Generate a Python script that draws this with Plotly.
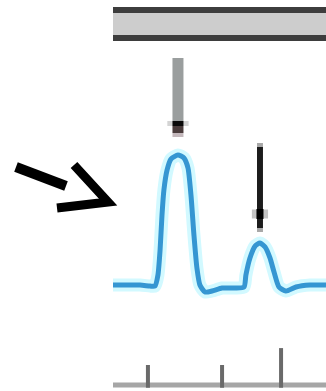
import plotly.graph_objects as go

W, H = 326, 391

# Signal (time units vs. intensity, baseline = 0, main peak = 100)
time = [0.0, 12.7, 17.4, 19.7, 21.1, 22.1, 23.0, 23.9, 25.4, 27.2, 30.5, 33.3, 35.2,
        36.6, 38.0, 39.4, 40.8, 43.2, 46.5, 51.2, 57.3, 61.5, 62.4, 64.3, 66.7, 69.0,
        71.4, 73.7, 75.6, 77.9, 81.2, 85.9, 92.5, 100.0]
intensity = [0.0, 0.0, -0.8, -0.8, 7.7, 26.9, 53.8, 73.1, 88.5, 96.9, 100.0, 97.7, 90.0,
             69.2, 38.5, 13.1, 0.0, -5.4, -4.6, -2.3, -2.3, -1.5, 7.7, 20.8, 30.0, 32.3,
             29.2, 20.8, 10.0, -1.5, -4.6, -1.5, 0.0, 0.0]

# Tick marks on the bottom axis (position, top of tick)
tick_pos = [16.4, 51.2, 78.9]
tick_top = [-61.5, -61.5, -48.5]
tick_bottom = -79.0

# Peak markers (position of peak apex)
peak_pos = [30.5, 69.0]
peak_val = [100.0, 32.3]

fig = go.Figure()

# glow under the line
fig.add_trace(go.Scatter(x=time, y=intensity, mode="lines",
                         line=dict(color="#d2f9ff", width=13, shape="spline", smoothing=0.6),
                         hoverinfo="skip", showlegend=False))
fig.add_trace(go.Scatter(x=time, y=intensity, mode="lines",
                         line=dict(color="#3596d2", width=5, shape="spline", smoothing=0.6),
                         showlegend=False))

# tick marks
tx, ty = [], []
for p, t in zip(tick_pos, tick_top):
    tx += [p, p, None]
    ty += [tick_bottom, t, None]
fig.add_trace(go.Scatter(x=tx, y=ty, mode="lines",
                         line=dict(color="#6a6a6a", width=4),
                         hoverinfo="skip", showlegend=False))


def px(x):
    return x / W


def py(y):
    return 1 - y / H


shapes = []
# header bar
shapes.append(dict(type="rect", xref="paper", yref="paper", x0=px(113), x1=px(326),
                   y0=py(41), y1=py(7), fillcolor="#3d3d3d", line=dict(width=0)))
shapes.append(dict(type="rect", xref="paper", yref="paper", x0=px(113), x1=px(326),
                   y0=py(35), y1=py(13), fillcolor="#cdcdcd", line=dict(width=0)))
# bottom axis line
shapes.append(dict(type="line", xref="paper", yref="paper", x0=px(113), x1=px(326),
                   y0=py(385), y1=py(385), line=dict(color="#a6a6a6", width=5), layer="below"))

# arrow over main peak (gray shaft, dark tip)
shapes.append(dict(type="line", xref="x", yref="paper", x0=peak_pos[0], x1=peak_pos[0],
                   y0=py(58), y1=py(122), line=dict(color="#9a9e9e", width=11)))
shapes.append(dict(type="line", xref="x", yref="paper", x0=peak_pos[0] - 5.0, x1=peak_pos[0] + 5.0,
                   y0=py(123.5), y1=py(123.5), line=dict(color="#d4d4d4", width=5)))
shapes.append(dict(type="line", xref="x", yref="paper", x0=peak_pos[0], x1=peak_pos[0],
                   y0=py(121), y1=py(126), line=dict(color="#0a0a0a", width=11)))
shapes.append(dict(type="line", xref="x", yref="paper", x0=peak_pos[0], x1=peak_pos[0],
                   y0=py(126), y1=py(133), line=dict(color="#4a3c3c", width=11)))
shapes.append(dict(type="line", xref="x", yref="paper", x0=peak_pos[0], x1=peak_pos[0],
                   y0=py(133), y1=py(137), line=dict(color="#c4b8bc", width=11)))

# arrow over second peak (black)
shapes.append(dict(type="line", xref="x", yref="paper", x0=peak_pos[1] - 3.8, x1=peak_pos[1] + 3.8,
                   y0=py(214), y1=py(214), line=dict(color="#c4c4c4", width=9)))
shapes.append(dict(type="line", xref="x", yref="paper", x0=peak_pos[1], x1=peak_pos[1],
                   y0=py(143), y1=py(147), line=dict(color="#a8a8a8", width=6)))
shapes.append(dict(type="line", xref="x", yref="paper", x0=peak_pos[1], x1=peak_pos[1],
                   y0=py(147), y1=py(228), line=dict(color="#1c1c1c", width=6)))
shapes.append(dict(type="line", xref="x", yref="paper", x0=peak_pos[1], x1=peak_pos[1],
                   y0=py(228), y1=py(232), line=dict(color="#a8a8a8", width=6)))
shapes.append(dict(type="line", xref="x", yref="paper", x0=peak_pos[1], x1=peak_pos[1],
                   y0=py(209), y1=py(219), line=dict(color="#000000", width=7)))

# big pointer arrow on the left
shapes.append(dict(type="line", xref="paper", yref="paper", x0=px(16), x1=px(66),
                   y0=py(167), y1=py(186), line=dict(color="#000000", width=10)))
shapes.append(dict(type="path", xref="paper", yref="paper",
                   path=f"M {px(74)},{py(165)} L {px(108)},{py(202)} L {px(57)},{py(208)}",
                   line=dict(color="#000000", width=9), fillcolor="rgba(0,0,0,0)"))

fig.update_layout(
    width=W, height=H,
    margin=dict(l=0, r=0, t=0, b=0),
    paper_bgcolor="#ffffff", plot_bgcolor="#ffffff",
    shapes=shapes,
    xaxis=dict(domain=[113 / W, 1], range=[0, 100], visible=False, fixedrange=True),
    yaxis=dict(domain=[0, 1], range=[-81.5, 219.2], visible=False, fixedrange=True),
)

fig.write_html("out.html")
